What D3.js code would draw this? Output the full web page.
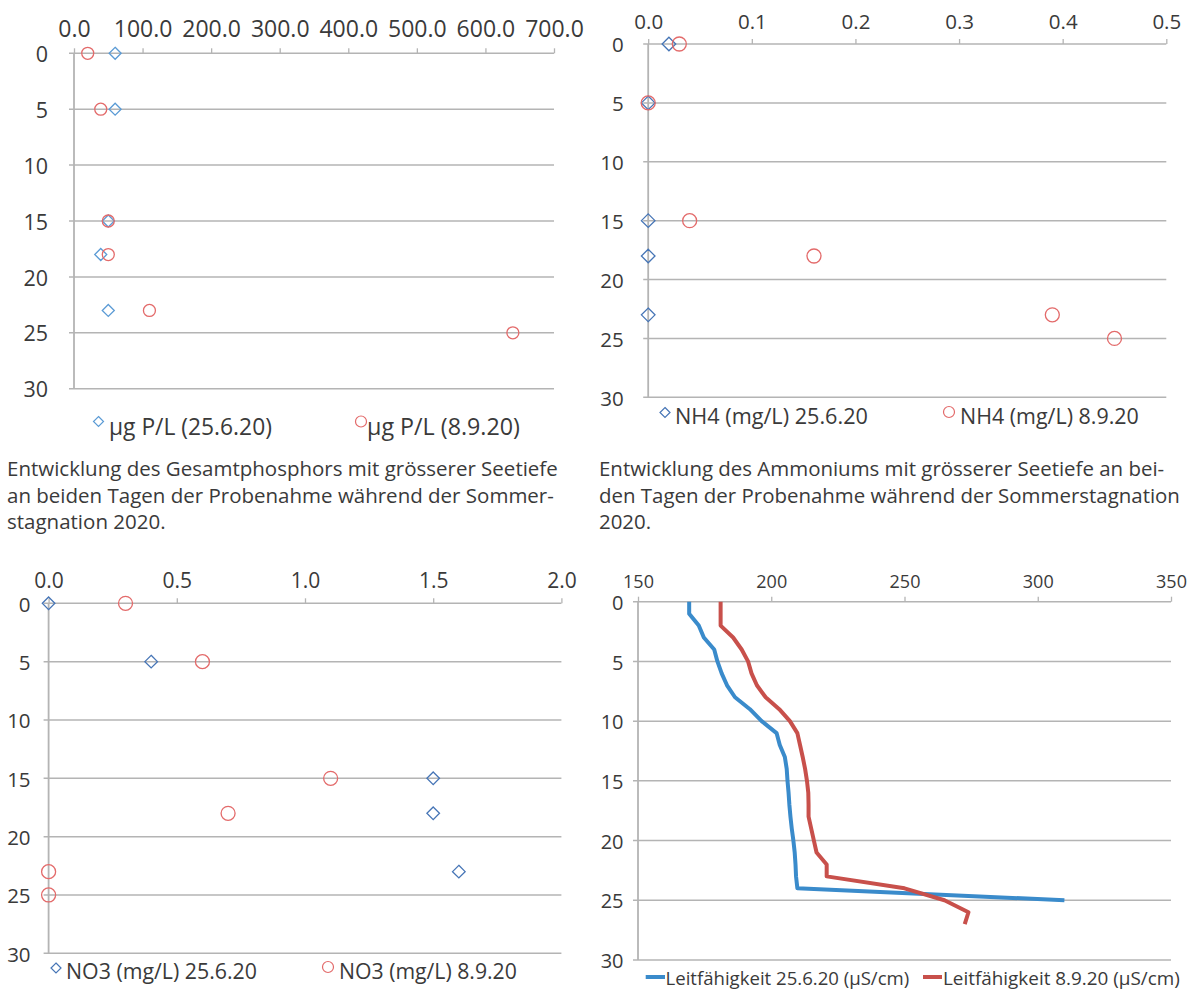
<!DOCTYPE html>
<html><head><meta charset="utf-8">
<script src="https://cdn.jsdelivr.net/npm/d3@7"></script>
<style>
body{margin:0;background:#fff}
svg{display:block}
text{font-family:"Open Sans",sans-serif;fill:#3a3a3a}
</style>
</head><body>
<svg id="c" width="1191" height="990"></svg>
<script>
// ---------- DATA ----------
const depthTicks = [0, 5, 10, 15, 20, 25, 30];

// Gesamtphosphor (µg P/L)
const tpDepths25 = [0, 5, 15, 18, 23];
const tpValues25 = [60, 60, 50, 39, 50];
const tpDepths89 = [0, 5, 15, 18, 23, 25];
const tpValues89 = [20, 39, 50, 50, 110, 640];
const tpTicks = [0, 100, 200, 300, 400, 500, 600, 700];
const tpLegend = ["µg P/L (25.6.20)", "µg P/L (8.9.20)"];
const tpCaption = ["Entwicklung des Gesamtphosphors mit grösserer Seetiefe",
                   "an beiden Tagen der Probenahme während der Sommer-",
                   "stagnation 2020."];

// Ammonium (mg/L)
const nh4Depths25 = [0, 5, 15, 18, 23];
const nh4Values25 = [0.02, 0, 0, 0, 0];
const nh4Depths89 = [0, 5, 15, 18, 23, 25];
const nh4Values89 = [0.03, 0, 0.04, 0.16, 0.39, 0.45];
const nh4Ticks = [0, 0.1, 0.2, 0.3, 0.4, 0.5];
const nh4Legend = ["NH4 (mg/L) 25.6.20", "NH4 (mg/L) 8.9.20"];
const nh4Caption = ["Entwicklung des Ammoniums mit grösserer Seetiefe an bei-",
                    "den Tagen der Probenahme während der Sommerstagnation",
                    "2020."];

// Nitrat (mg/L)
const no3Depths25 = [0, 5, 15, 18, 23];
const no3Values25 = [0, 0.4, 1.5, 1.5, 1.6];
const no3Depths89 = [0, 5, 15, 18, 23, 25];
const no3Values89 = [0.3, 0.6, 1.1, 0.7, 0, 0];
const no3Ticks = [0, 0.5, 1.0, 1.5, 2.0];
const no3Legend = ["NO3 (mg/L) 25.6.20", "NO3 (mg/L) 8.9.20"];

// Leitfähigkeit (µS/cm)
const condDepths25 = [0,1,2,3,4,5,6,7,8,9,10,11,12,13,14,15,16,17,18,19,20,21,22,23,24,25];
const condValues25 = [169.2,169.2,172.8,174.7,178.6,179.8,181.4,183.4,186.4,192.0,196.4,202.0,203.2,205.1,205.8,206.1,206.5,206.8,207.2,207.7,208.3,208.8,209.1,209.3,209.8,310.0];
const condDepths89 = [0,1,2,3,4,5,6,7,8,9,10,11,12,13,14,15,16,17,18,19,20,21,22,23,24,25,26,27];
const condValues89 = [181.0,181.0,181.0,185.7,188.9,191.3,192.6,194.6,197.9,203.0,207.0,209.8,210.8,211.8,212.7,213.4,213.9,214.0,214.0,215.0,216.0,217.0,220.8,220.8,250.0,265.0,274.0,272.6];
const condTicks = [150, 200, 250, 300, 350];
const condLegend = ["Leitfähigkeit 25.6.20 (µS/cm)", "Leitfähigkeit 8.9.20 (µS/cm)"];

// ---------- STYLE ----------
const gridColor = "#b4b4b4";
const textColor = "#3a3a3a";
const redMarker = "#e36a6a";
const blueLine = "#3a8bcb";
const redLine = "#c8504b";

const svg = d3.select("#c");

function fitFont(sel, target, base) {
  sel.attr("font-size", base);
  const w = sel.node().getComputedTextLength();
  sel.attr("font-size", base * target / w);
  return base * target / w;
}

function diamondPath(cx, cy, r) {
  return `M${cx},${cy - r}L${cx + r},${cy}L${cx},${cy + r}L${cx - r},${cy}Z`;
}

function panel(o) {
  const g = svg.append("g");
  const x = d3.scaleLinear().domain(o.xDomain).range(o.xRange);
  const y = d3.scaleLinear().domain([0, 30]).range(o.yRange);

  g.append("g").selectAll("line").data(depthTicks).join("line")
    .attr("x1", o.xRange[0] - 5).attr("x2", o.xRange[1])
    .attr("y1", d => y(d)).attr("y2", d => y(d))
    .attr("stroke", gridColor).attr("stroke-width", 1.5);

  g.append("line")
    .attr("x1", x(o.xDomain[0])).attr("x2", x(o.xDomain[0]))
    .attr("y1", y(0)).attr("y2", y(30))
    .attr("stroke", gridColor).attr("stroke-width", 1.8);

  const ax = g.append("g").attr("transform", `translate(0,${y(0)})`)
    .call(d3.axisTop(x).tickValues(o.xTicks).tickFormat(o.fmt)
      .tickSize(5).tickSizeOuter(0).tickPadding(o.xPad));
  ax.select(".domain").remove();
  ax.selectAll(".tick line").attr("stroke", gridColor).attr("stroke-width", 1.3);
  ax.selectAll(".tick text").attr("font-size", o.xFont).attr("fill", textColor)
    .attr("font-family", '"Open Sans",sans-serif');

  const ay = g.append("g").attr("transform", `translate(${x(o.xDomain[0])},0)`)
    .call(d3.axisLeft(y).tickValues(depthTicks).tickSize(0).tickPadding(o.yPad));
  ay.select(".domain").remove();
  ay.selectAll(".tick text").attr("font-size", o.yFont).attr("fill", textColor)
    .attr("font-family", '"Open Sans",sans-serif').attr("dy", "0.38em");

  return {g, x, y};
}

function scatter(p, depths, values, kind, color, r) {
  const pts = depths.map((d, i) => ({d, v: values[i]}));
  if (kind === "diamond") {
    p.g.append("g").selectAll("path").data(pts).join("path")
      .attr("d", q => diamondPath(p.x(q.v), p.y(q.d), r))
      .attr("fill", "none").attr("stroke", color).attr("stroke-width", 1.3);
  } else {
    p.g.append("g").selectAll("circle").data(pts).join("circle")
      .attr("cx", q => p.x(q.v)).attr("cy", q => p.y(q.d)).attr("r", r)
      .attr("fill", "none").attr("stroke", color).attr("stroke-width", 1.3);
  }
}

function legendItem(kind, color, mx, my, label, tx, ty, tw, base) {
  if (kind === "diamond") {
    svg.append("path").attr("d", diamondPath(mx, my, 5))
      .attr("fill", "none").attr("stroke", color).attr("stroke-width", 1.2);
  } else if (kind === "circle") {
    svg.append("circle").attr("cx", mx).attr("cy", my).attr("r", 5.5)
      .attr("fill", "none").attr("stroke", color).attr("stroke-width", 1.2);
  } else {
    svg.append("line").attr("x1", mx[0]).attr("x2", mx[1]).attr("y1", my).attr("y2", my)
      .attr("stroke", color).attr("stroke-width", 4);
  }
  const t = svg.append("text").attr("x", tx).attr("y", ty).text(label).attr("fill", textColor);
  fitFont(t, tw, base);
}

// caption: fit font so the longest lines stay within their target widths
function caption(lines, x0, baselines, targetWs) {
  const ts = lines.map((l, i) => svg.append("text").attr("x", x0).attr("y", baselines[i])
    .text(l).attr("fill", textColor));
  let fs = Infinity;
  targetWs.forEach((w, i) => { if (w) fs = Math.min(fs, fitFont(ts[i], w, 19)); });
  ts.forEach(t => t.attr("font-size", fs));
}

// ---------- PANEL 1: Phosphor ----------
const p1 = panel({xDomain: [0, 700], xRange: [74, 554], yRange: [53.3, 388.7],
  xTicks: tpTicks, fmt: d3.format(".1f"), xPad: 11, yPad: 26, xFont: 23, yFont: 21.5});
scatter(p1, tpDepths25, tpValues25, "diamond", "#5b9bd5", 6);
scatter(p1, tpDepths89, tpValues89, "circle", redMarker, 6);
legendItem("diamond", "#5b9bd5", 98.5, 421.5, tpLegend[0], 109, 435, 163, 20);
legendItem("circle", redMarker, 361, 421.5, tpLegend[1], 367, 435, 153, 20);
caption(tpCaption, 7, [476, 502.5, 528.5], [553, 547, 0]);

// ---------- PANEL 2: Ammonium ----------
const p2 = panel({xDomain: [0, 0.5], xRange: [648.2, 1166.3], yRange: [44, 397.3],
  xTicks: nh4Ticks, fmt: d3.format(".1f"), xPad: 10, yPad: 24.5, xFont: 20.5, yFont: 20.5});
scatter(p2, nh4Depths25, nh4Values25, "diamond", "#4675b6", 6.8);
scatter(p2, nh4Depths89, nh4Values89, "circle", redMarker, 7);
legendItem("diamond", "#4675b6", 665, 412.5, nh4Legend[0], 675, 424, 193, 20);
legendItem("circle", redMarker, 949, 412, nh4Legend[1], 960, 424, 179, 20);
caption(nh4Caption, 599, [476, 502.5, 528.5], [580, 581, 0]);

// ---------- PANEL 3: Nitrat ----------
const p3 = panel({xDomain: [0, 2], xRange: [48.6, 561.4], yRange: [603.3, 953.3],
  xTicks: no3Ticks, fmt: d3.format(".1f"), xPad: 10.3, yPad: 18, xFont: 21, yFont: 20.5});
scatter(p3, no3Depths25, no3Values25, "diamond", "#4675b6", 6.3);
scatter(p3, no3Depths89, no3Values89, "circle", redMarker, 7);
legendItem("diamond", "#4675b6", 56, 968, no3Legend[0], 66, 979, 191, 20);
legendItem("circle", redMarker, 328, 967, no3Legend[1], 339, 979, 178, 20);

// ---------- PANEL 4: Leitfähigkeit ----------
const p4 = panel({xDomain: [150, 350], xRange: [638, 1171], yRange: [601.7, 960],
  xTicks: condTicks, fmt: d3.format("d"), xPad: 8.4, yPad: 14.5, xFont: 18, yFont: 20});
const line4 = d3.line().x(d => p4.x(d.v)).y(d => p4.y(d.d));
p4.g.append("path").datum(condDepths25.map((d, i) => ({d, v: condValues25[i]})))
  .attr("d", line4).attr("fill", "none").attr("stroke", blueLine).attr("stroke-width", 4)
  .attr("stroke-linejoin", "round");
p4.g.append("path").datum(condDepths89.map((d, i) => ({d, v: condValues89[i]})))
  .attr("d", line4).attr("fill", "none").attr("stroke", redLine).attr("stroke-width", 4)
  .attr("stroke-linejoin", "round");
legendItem("line", blueLine, [645.7, 665], 977, condLegend[0], 665.5, 984.5, 244, 20);
legendItem("line", redLine, [923, 942], 977, condLegend[1], 943, 984.5, 237, 20);
</script>
</body></html>
